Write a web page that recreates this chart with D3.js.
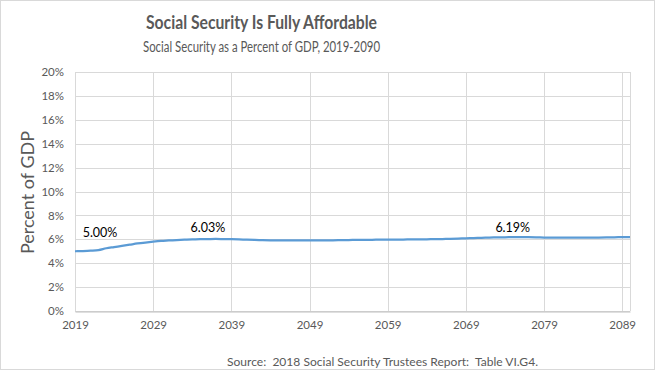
<!DOCTYPE html>
<html>
<head>
<meta charset="utf-8">
<script src="https://cdn.jsdelivr.net/npm/d3@7"></script>
<style>
  body { margin: 0; background: #fff; }
  text { font-family: Lato, "Open Sans", sans-serif; white-space: pre; }
</style>
</head>
<body>
<div id="chart"></div>
<script>
const years = d3.range(2019, 2091);
const costPct = [
  5.00, 5.02, 5.05, 5.10, 5.25, 5.35, 5.45, 5.55, 5.65, 5.73,
  5.80, 5.86, 5.90, 5.94, 5.97, 5.99, 6.01, 6.02, 6.03, 6.02,
  6.01, 5.99, 5.97, 5.95, 5.93, 5.92, 5.91, 5.91, 5.91, 5.91,
  5.91, 5.91, 5.92, 5.92, 5.93, 5.94, 5.95, 5.96, 5.96, 5.97,
  5.97, 5.98, 5.98, 5.99, 5.99, 6.00, 6.01, 6.02, 6.04, 6.06,
  6.08, 6.10, 6.12, 6.14, 6.16, 6.17, 6.18, 6.19, 6.18, 6.17,
  6.15, 6.14, 6.13, 6.13, 6.13, 6.13, 6.14, 6.15, 6.16, 6.17,
  6.18, 6.19
];
const xTicks = [2019, 2029, 2039, 2049, 2059, 2069, 2079, 2089];
const yTicks = [0, 2, 4, 6, 8, 10, 12, 14, 16, 18, 20];
const labelYears = [2019, 2036, 2075];
const labelTexts = ["5.00%", "6.03%", "6.19%"];

const width = 656, height = 371;
const margin = {top: 72, right: 26, bottom: 60, left: 75};

const svg = d3.select("#chart").append("svg")
  .attr("width", width)
  .attr("height", height);

svg.append("rect")
  .attr("x", 0.5).attr("y", 0.5)
  .attr("width", width - 2).attr("height", height - 2)
  .attr("fill", "#fff")
  .attr("stroke", "#d9d9d9");

const x = d3.scaleLinear().domain([2019, 2090]).range([margin.left, width - margin.right]);
const y = d3.scaleLinear().domain([0, 20]).range([height - margin.bottom, margin.top]);

// gridlines
svg.append("g")
  .selectAll("line.h")
  .data(yTicks)
  .join("line")
  .attr("x1", margin.left).attr("x2", width - margin.right)
  .attr("y1", d => Math.round(y(d)) + 0.5).attr("y2", d => Math.round(y(d)) + 0.5)
  .attr("stroke", "#d9d9d9");

svg.append("g")
  .selectAll("line.v")
  .data(xTicks)
  .join("line")
  .attr("x1", d => Math.round(x(d)) + 0.5).attr("x2", d => Math.round(x(d)) + 0.5)
  .attr("y1", margin.top).attr("y2", y(0))
  .attr("stroke", "#d9d9d9");

svg.append("line")
  .attr("x1", width - margin.right + 0.5).attr("x2", width - margin.right + 0.5)
  .attr("y1", margin.top).attr("y2", y(0))
  .attr("stroke", "#d9d9d9");

// axes
const xAxis = svg.append("g")
  .attr("transform", `translate(0,${Math.round(y(0)) + 0.5})`)
  .call(d3.axisBottom(x).tickValues(xTicks).tickFormat(d3.format("d")).tickSize(0).tickPadding(9));
xAxis.select(".domain").attr("stroke", "#bfbfbf");
xAxis.selectAll("text").attr("fill", "#595959").attr("font-size", 11.5);

const yAxis = svg.append("g")
  .attr("transform", `translate(${margin.left},0)`)
  .call(d3.axisLeft(y).tickValues(yTicks).tickFormat(d => d + "%").tickSize(0).tickPadding(11));
yAxis.select(".domain").remove();
yAxis.selectAll("text").attr("fill", "#595959").attr("font-size", 11.5);

// series
const data = years.map((yr, i) => ({year: yr, value: costPct[i]}));
svg.append("path")
  .datum(data)
  .attr("fill", "none")
  .attr("stroke", "#5b9bd5")
  .attr("stroke-width", 2.25)
  .attr("stroke-linejoin", "round")
  .attr("d", d3.line().x(d => x(d.year)).y(d => y(d.value)).curve(d3.curveMonotoneX));

// data labels
const labelDx = [25, 0, 0];
const labelDy = [-14, -7, -5];
svg.append("g")
  .selectAll("text")
  .data(labelYears)
  .join("text")
  .attr("x", (d, i) => x(d) + labelDx[i])
  .attr("y", (d, i) => y(costPct[years.indexOf(d)]) + labelDy[i])
  .attr("text-anchor", "middle")
  .attr("font-size", 12.5)
  .attr("fill", "#000")
  .text((d, i) => labelTexts[i]);

// titles
svg.append("text")
  .attr("x", 146).attr("y", 29)
  .attr("font-size", 19)
  .attr("font-weight", "bold")
  .attr("fill", "#595959")
  .attr("textLength", 231)
  .attr("lengthAdjust", "spacingAndGlyphs")
  .text("Social Security Is Fully Affordable");

svg.append("text")
  .attr("x", 143).attr("y", 52)
  .attr("font-size", 14.5)
  .attr("fill", "#595959")
  .attr("textLength", 237)
  .attr("lengthAdjust", "spacingAndGlyphs")
  .text("Social Security as a Percent of GDP, 2019-2090");

svg.append("text")
  .attr("transform", `translate(34,${(134 + 251) / 2}) rotate(-90)`)
  .attr("text-anchor", "middle")
  .attr("font-size", 18)
  .attr("fill", "#595959")
  .text("Percent of GDP");

svg.append("text")
  .attr("x", 227).attr("y", 366)
  .attr("font-size", 12)
  .attr("fill", "#595959")
  .attr("textLength", 311)
  .attr("lengthAdjust", "spacingAndGlyphs")
  .text("Source:  2018 Social Security Trustees Report:  Table VI.G4.");
</script>
</body>
</html>
